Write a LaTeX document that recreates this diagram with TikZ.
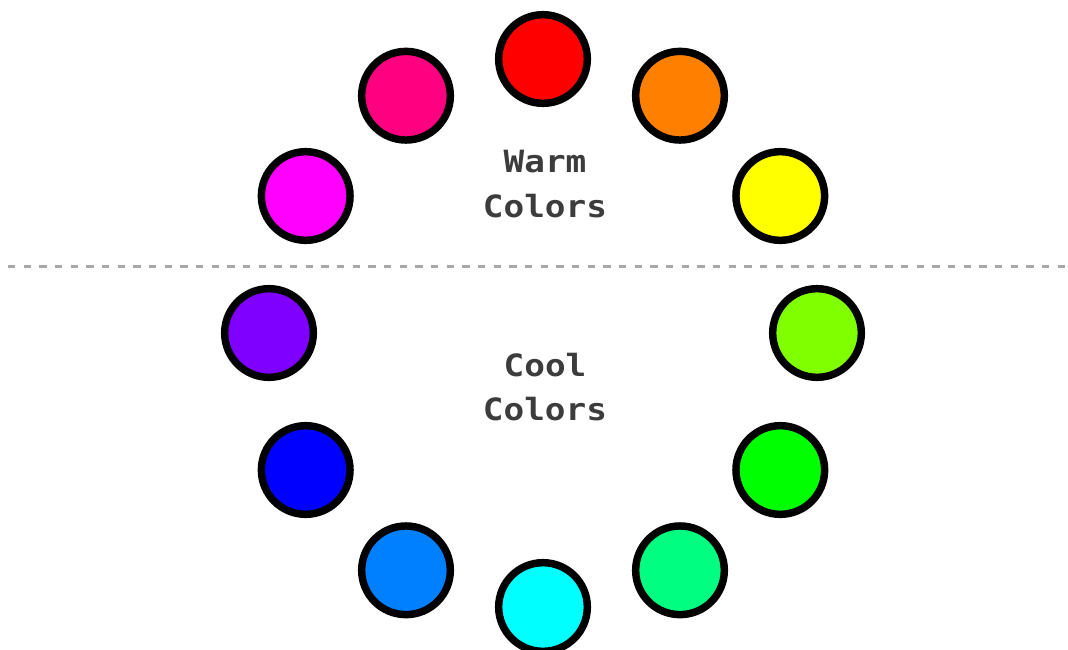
\documentclass[tikz,border=0pt]{standalone}
\usepackage{fontspec}
\usetikzlibrary{calc}
\newfontfamily\labelfont[FakeStretch=1.12]{DejaVu Sans Mono}
\definecolor{cRed}{HTML}{FF0000}
\definecolor{cOrange}{HTML}{FF8000}
\definecolor{cYellow}{HTML}{FFFF00}
\definecolor{cChart}{HTML}{80FF00}
\definecolor{cGreen}{HTML}{00FF00}
\definecolor{cSpring}{HTML}{00FF80}
\definecolor{cCyan}{HTML}{00FFFF}
\definecolor{cAzure}{HTML}{0080FF}
\definecolor{cBlue}{HTML}{0000FF}
\definecolor{cViolet}{HTML}{8000FF}
\definecolor{cMagenta}{HTML}{FF00FF}
\definecolor{cRose}{HTML}{FF0080}
\definecolor{txtgray}{HTML}{3C3C3C}
\definecolor{dashgray}{HTML}{A8A8A8}
\begin{document}
\begin{tikzpicture}[x=0.75pt,y=-0.75pt,
  swatch/.style={circle,draw=black,line width=5.6pt,inner sep=0pt,minimum size=66.5pt},
  label/.style={text=txtgray,font=\labelfont\bfseries\fontsize{23pt}{28pt}\selectfont,anchor=base,inner sep=0pt},
  divider/.style={dashgray,line width=2.25pt,dash pattern=on 5.5pt off 6.25pt}]
\fill[white] (0,0) rectangle (1068,650);
\useasboundingbox (0,0) rectangle (1068,650);
\coordinate (ctr) at (543,333);
\foreach \name/\col [count=\i from 0] in {red/cRed,orange/cOrange,yellow/cYellow,chart/cChart,green/cGreen,spring/cSpring,cyan/cCyan,azure/cAzure,blue/cBlue,violet/cViolet,magenta/cMagenta,rose/cRose}{
  \node[swatch,fill=\col] (\name) at ($(ctr)+({274*cos(90-30*\i)},{-274*sin(90-30*\i)})$) {};
}
\coordinate (dl) at (8,266);
\coordinate (dr) at (1068,266);
\draw[divider] (dl) -- (dr);
\node[label] (warm) at (545,172) {Warm};
\node[label] (warmc) at (545,217) {Colors};
\node[label] (cool) at (545,376) {Cool};
\node[label] (coolc) at (545,420) {Colors};
\end{tikzpicture}
\end{document}
